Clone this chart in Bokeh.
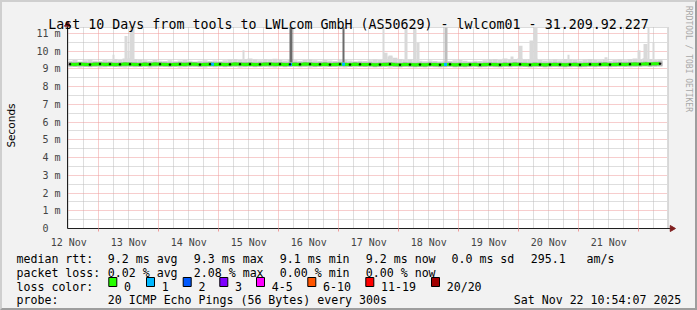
from datetime import datetime, timedelta
import numpy as np
from bokeh.plotting import figure
from bokeh.models import (Range1d, FixedTicker, Grid, Label, BoxAnnotation,
                          DatetimeTickFormatter)
from bokeh.embed import file_html
from bokeh.resources import INLINE

# ---------------- data ----------------
START = datetime(2025, 11, 12, 11, 30)
END = datetime(2025, 11, 22, 11, 30)
STEP_H = 2.0  # hours per sample

median_ms = [
    9.26, 9.25, 9.27, 9.25, 9.24, 9.26, 9.27, 9.25, 9.26, 9.24,
    9.25, 9.27, 9.26, 9.25, 9.24, 9.26, 9.25, 9.27, 9.26, 9.25,
    9.24, 9.25, 9.26, 9.25, 9.27, 9.26, 9.24, 9.25, 9.26, 9.25,
    9.26, 9.24, 9.25, 9.27, 9.26, 9.25, 9.26, 9.24, 9.25, 9.26,
    9.27, 9.25, 9.26, 9.24, 9.25, 9.26, 9.25, 9.27, 9.26, 9.24,
    9.25, 9.26, 9.24, 9.25, 9.26, 9.25, 9.24, 9.26, 9.25, 9.24,
    9.25, 9.23, 9.24, 9.25, 9.26, 9.24, 9.23, 9.25, 9.24, 9.23,
    9.24, 9.23, 9.25, 9.24, 9.23, 9.24, 9.25, 9.23, 9.24, 9.23,
    9.24, 9.25, 9.23, 9.24, 9.25, 9.24, 9.23, 9.25, 9.24, 9.26,
    9.25, 9.24, 9.23, 9.25, 9.24, 9.23, 9.24, 9.25, 9.24, 9.23,
    9.24, 9.25, 9.23, 9.24, 9.25, 9.24, 9.25, 9.26, 9.24, 9.25,
    9.26, 9.25, 9.26, 9.27, 9.26, 9.28, 9.27, 9.28, 9.29]

smoke_low_ms = [
    9.09, 9.10, 9.08, 9.11, 9.09, 9.10, 9.08, 9.09, 9.11, 9.10,
    9.09, 9.08, 9.10, 9.09, 9.11, 9.10, 9.08, 9.09, 9.10, 9.11,
    9.09, 9.10, 9.08, 9.09, 9.10, 9.11, 9.09, 9.08, 9.10, 9.09,
    9.10, 9.09, 9.11, 9.10, 9.08, 9.09, 9.10, 9.09, 9.11, 9.10,
    9.09, 9.08, 9.10, 9.09, 9.10, 9.11, 9.09, 9.10, 9.08, 9.09,
    9.10, 9.09, 9.11, 9.10, 9.09, 9.08, 9.10, 9.09, 9.10, 9.11,
    9.09, 9.08, 9.09, 9.10, 9.08, 9.09, 9.08, 9.10, 9.09, 9.08,
    9.09, 9.08, 9.10, 9.09, 9.08, 9.09, 9.10, 9.08, 9.09, 9.08,
    9.09, 9.10, 9.08, 9.09, 9.10, 9.09, 9.08, 9.10, 9.09, 9.10,
    9.09, 9.10, 9.08, 9.09, 9.10, 9.08, 9.09, 9.10, 9.09, 9.08,
    9.09, 9.10, 9.08, 9.09, 9.10, 9.09, 9.10, 9.11, 9.09, 9.10,
    9.11, 9.10, 9.09, 9.11, 9.10, 9.12, 9.11, 9.10, 9.12]

smoke_high_ms = [
    9.45, 9.50, 9.42, 9.48, 9.52, 9.46, 9.44, 9.50, 9.47, 9.55,
    9.50, 9.58, 9.60, 9.55, 9.52, 9.48, 9.45, 9.50, 9.46, 9.44,
    9.48, 9.43, 9.47, 9.50, 9.45, 9.42, 9.46, 9.49, 9.44, 9.47,
    9.43, 9.48, 9.52, 9.56, 9.50, 9.54, 9.58, 9.52, 9.48, 9.55,
    9.53, 9.57, 9.50, 9.47, 9.52, 9.49, 9.46, 9.50, 9.53, 9.48,
    9.45, 9.50, 9.47, 9.44, 9.49, 9.52, 9.47, 9.43, 9.46, 9.44,
    9.48, 9.52, 9.50, 9.55, 9.70, 9.62, 9.55, 9.50, 9.52, 9.47,
    9.45, 9.43, 9.47, 9.44, 9.42, 9.46, 9.44, 9.48, 9.50, 9.45,
    9.42, 9.46, 9.44, 9.48, 9.52, 9.55, 9.50, 9.58, 9.53, 9.56,
    9.60, 9.52, 9.55, 9.58, 9.50, 9.47, 9.49, 9.52, 9.48, 9.55,
    9.53, 9.50, 9.47, 9.52, 9.55, 9.50, 9.48, 9.52, 9.46, 9.50,
    9.52, 9.48, 9.55, 9.58, 9.52, 9.60, 9.55, 9.50, 9.52]

# isolated latency spikes (hours after START)
spike_start_h = [18.0, 22.8, 24.0, 24.8, 70.0, 88.8, 110.0, 126.0, 126.4, 128.4,
                 134.8, 138.4, 139.6, 150.8, 177.2, 180.4, 184.8, 186.4, 200.0,
                 214.8, 228.0, 230.4, 232.0, 234.0]
spike_end_h = [18.8, 24.0, 24.8, 26.8, 70.8, 90.0, 110.8, 126.8, 128.0, 130.0,
               136.0, 139.6, 140.8, 152.0, 178.4, 182.0, 186.4, 188.0, 200.8,
               216.0, 229.2, 232.0, 232.8, 234.8]
spike_top_ms = [9.8, 10.85, 10.0, 11.4, 10.05, 11.4, 11.4, 11.4, 9.9, 9.75,
                11.4, 11.4, 10.45, 11.4, 9.7, 10.3, 10.6, 11.4, 9.8,
                9.65, 10.05, 10.4, 11.4, 10.5]
spike_pings = [1, 1, 1, 1, 1, 12, 12, 1, 1, 1,
               1, 1, 1, 3, 1, 1, 1, 1, 1,
               1, 1, 1, 1, 1]

# packet loss events (hours after START, lost pings of 20)
loss_time_h = [58.0, 89.2, 110.4, 151.2]
loss_count = [1, 1, 1, 1]

Y_TOP = 11.33
y_ticks = [0, 1, 2, 3, 4, 5, 6, 7, 8, 9, 10, 11]
y_tick_labels = ["0\u00a0\u00a0", "1 m", "2 m", "3 m", "4 m", "5 m", "6 m", "7 m",
                 "8 m", "9 m", "10 m", "11 m"]
day_labels = ["12 Nov", "13 Nov", "14 Nov", "15 Nov", "16 Nov", "17 Nov",
              "18 Nov", "19 Nov", "20 Nov", "21 Nov"]

title_text = "Last 10 Days from tools to LWLcom GmbH (AS50629) - lwlcom01 - 31.209.92.227"
rtt_stats = ["9.2 ms avg", "9.3 ms max", "9.1 ms min", "9.2 ms now", "0.0 ms sd",
             "295.1", "am/s"]
loss_stats = ["0.02 % avg", "2.08 % max", "0.00 % min", "0.00 % now"]
loss_bucket_labels = ["0", "1", "2", "3", "4-5", "6-10", "11-19", "20/20"]
probe_text = "20 ICMP Echo Pings (56 Bytes) every 300s"
stamp_text = "Sat Nov 22 10:54:07 2025"

# ---------------- styling / layout constants ----------------
LOSS_COLORS = ["#26ff00", "#00b8ff", "#0059ff", "#7e00ff", "#ff00ff",
               "#ff5500", "#ff0000", "#a10000"]
BACK = "#f2f2f2"
GRID_C = "#bdbdbd"
MGRID_C = "#ee9a9a"
AXIS_C = "#1f1f1f"
ARROW_C = "#801f1f"
MONO = "DejaVu Sans Mono"
PX_PER_MS = 17.74
PX_PER_H = 2.5
W, H = 697, 310
X0_PX, Y0_PX = 67, 228      # canvas pixel of (START, 0 ms)

EPOCH = datetime(1970, 1, 1)


def ms(dt):
    return (dt - EPOCH).total_seconds() * 1000.0


def h2ms(h):
    return ms(START + timedelta(hours=h))


n = len(median_ms)
left = [h2ms(STEP_H * i) for i in range(n)]
right = [h2ms(STEP_H * (i + 1)) for i in range(n)]
center = [h2ms(STEP_H * (i + 0.5)) for i in range(n)]

x_lo = h2ms(-X0_PX / PX_PER_H)
x_hi = h2ms((W - X0_PX) / PX_PER_H)
y_lo = -(H - Y0_PX) / PX_PER_MS
y_hi = Y0_PX / PX_PER_MS

p = figure(width=W, height=H, x_axis_type="datetime", output_backend="svg",
           toolbar_location=None, title=None,
           x_range=Range1d(x_lo, x_hi), y_range=Range1d(y_lo, y_hi),
           min_border=0, min_border_left=0, min_border_right=0,
           min_border_top=0, min_border_bottom=0)
p.background_fill_color = BACK
p.border_fill_color = BACK
p.outline_line_color = None
p.grid.visible = False

# white canvas of the graph
p.quad(left=[ms(START)], right=[ms(END)], bottom=[0], top=[Y_TOP],
       fill_color="white", line_color=None, level="image")

# grids
noons = [ms(datetime(2025, 11, 12 + i, 12)) for i in range(len(day_labels))]
midnights = [ms(datetime(2025, 11, 13 + i, 0)) for i in range(10)]
six_h = [ms(datetime(2025, 11, 12, 12) + timedelta(hours=6 * k)) for k in range(41)]
six_h = [t for t in six_h if t not in midnights] + [ms(END)]
xg = Grid(dimension=0, ticker=FixedTicker(ticks=midnights, minor_ticks=six_h),
          cross_bounds=(0, Y_TOP),
          grid_line_color=MGRID_C, grid_line_dash="1 1",
          minor_grid_line_color=GRID_C, minor_grid_line_dash="1 1")
yg = Grid(dimension=1, ticker=FixedTicker(ticks=y_ticks[1:],
                                          minor_ticks=[v + 0.5 for v in y_ticks[:-1]] + [Y_TOP]),
          cross_bounds=(ms(START), ms(END)),
          grid_line_color=MGRID_C, grid_line_dash="1 1",
          minor_grid_line_color=GRID_C, minor_grid_line_dash="1 1")
p.add_layout(xg)
p.add_layout(yg)

# smoke band
p.quad(left=left, right=right, bottom=smoke_low_ms, top=smoke_high_ms,
       fill_color="#d6d6d6", line_color=None)
# spikes
shade = {1: "#d9d9d9", 3: "#bdbdbd", 12: "#6b6b6b"}
p.quad(left=[h2ms(h) for h in spike_start_h], right=[h2ms(h) for h in spike_end_h],
       bottom=[9.2] * len(spike_top_ms), top=[min(t, Y_TOP) for t in spike_top_ms],
       fill_color=[shade[k] for k in spike_pings], line_color=None)
# core smoke near median
p.quad(left=left, right=right, bottom=[m - 0.12 for m in median_ms],
       top=[m + 0.12 for m in median_ms], fill_color="#a9a9a9", line_color=None)
# median line coloured by loss
p.line(center, median_ms, line_color=LOSS_COLORS[0], line_width=3)
loss_x = [h2ms(t) for t in loss_time_h]
loss_y = list(np.interp(loss_x, center, median_ms))
p.segment(x0=[x - 0.6 * 3600e3 for x in loss_x], x1=[x + 0.6 * 3600e3 for x in loss_x],
          y0=loss_y, y1=loss_y, line_color=[LOSS_COLORS[c] for c in loss_count],
          line_width=3)
p.scatter(center[::2], median_ms[::2], size=1.6, color="black")

# axis lines with arrow heads
arrow_y = (Y0_PX - 24) / PX_PER_MS
arrow_x = h2ms((671.5 - X0_PX) / PX_PER_H)
p.segment(x0=[ms(START), ms(START)], y0=[0, 0], x1=[ms(START), arrow_x],
          y1=[arrow_y, 0], line_color=AXIS_C, line_width=1)
p.scatter([ms(START)], [arrow_y], marker="triangle", size=6, angle=0,
          fill_color=ARROW_C, line_color=ARROW_C)
p.scatter([arrow_x], [0], marker="triangle", size=6, angle=-np.pi / 2,
          fill_color=ARROW_C, line_color=ARROW_C)

# axes fixed at the graph origin
xa = p.xaxis[0]
xa.fixed_location = 0
xa.ticker = FixedTicker(ticks=noons, minor_ticks=midnights)
xa.formatter = DatetimeTickFormatter(days="%d %b", hours="%d %b", hourmin="%d %b",
                                     minutes="%d %b", months="%d %b", years="%d %b")
xa.major_label_overrides = {t: lab for t, lab in zip(noons, day_labels)}
xa.major_tick_line_color = None
xa.major_tick_out = 0
xa.major_tick_in = 0
xa.minor_tick_line_color = MGRID_C
xa.minor_tick_out = 3
xa.minor_tick_in = 0
xa.axis_line_color = None
xa.major_label_text_font = MONO
xa.major_label_text_font_size = "10px"
xa.major_label_standoff = 5

ya = p.yaxis[0]
ya.fixed_location = ms(START)
ya.ticker = FixedTicker(ticks=y_ticks)
ya.major_label_overrides = {t: lab for t, lab in zip(y_ticks, y_tick_labels)}
ya.major_tick_line_color = None
ya.major_tick_out = 0
ya.major_tick_in = 0
ya.minor_tick_line_color = None
ya.axis_line_color = None
ya.major_label_text_font = MONO
ya.major_label_text_font_size = "10px"
ya.major_label_standoff = 7


def lab(text, cx, cy, size="11.6px", align="left", baseline="alphabetic",
        angle=0.0, color="black", font=MONO):
    p.add_layout(Label(x=cx, y=H - cy, x_units="screen", y_units="screen",
                       text=text, text_font=font, text_font_size=size,
                       text_align=align, text_baseline=baseline, angle=angle,
                       text_color=color))


lab(title_text, 348, 23.7, "13.3px", align="center")
lab("Seconds", 10.5, 125, "10.5px", align="center", baseline="middle",
    angle=np.pi / 2, font="DejaVu Sans")
lab("RRDTOOL / TOBI OETIKER", 687.5, 58.5, "8px", align="center",
    baseline="middle", angle=-np.pi / 2, color="#a8a8a8")

# ---------------- legend block ----------------
col_x = [107.3, 193.3, 279.3, 365.3, 451, 530.3, 586]
rows = [258, 272, 286, 299.5]
box_x = [108.3, 146, 182.7, 219.3, 256, 307.3, 365.3, 431]

lab("median rtt:", 16, rows[0])
for t, x in zip(rtt_stats, col_x):
    lab(t, x, rows[0])
lab("packet loss:", 16, rows[1])
for t, x in zip(loss_stats, col_x):
    lab(t, x, rows[1])
lab("loss color:", 16, rows[2])
for t, c, x in zip(loss_bucket_labels, LOSS_COLORS, box_x):
    p.add_layout(BoxAnnotation(left=x, right=x + 8, top=H - 277, bottom=H - 286,
                               left_units="screen", right_units="screen",
                               top_units="screen", bottom_units="screen",
                               fill_color=c, fill_alpha=1, line_color="black",
                               line_width=1, line_alpha=1))
    lab(t, x + 15.2, rows[2])
lab("probe:", 16, rows[3])
lab(probe_text, 107.3, rows[3])
lab(stamp_text, 513.3, rows[3])

p.stylesheets = [":host::after{content:'';position:absolute;left:0;top:0;right:0;"
                 "bottom:0;box-sizing:border-box;border-style:solid;"
                 "border-width:2px;border-color:#cfcfcf #9e9e9e #9e9e9e #cfcfcf;"
                 "pointer-events:none;}"]

open("out.html", "w").write(file_html(p, INLINE))
